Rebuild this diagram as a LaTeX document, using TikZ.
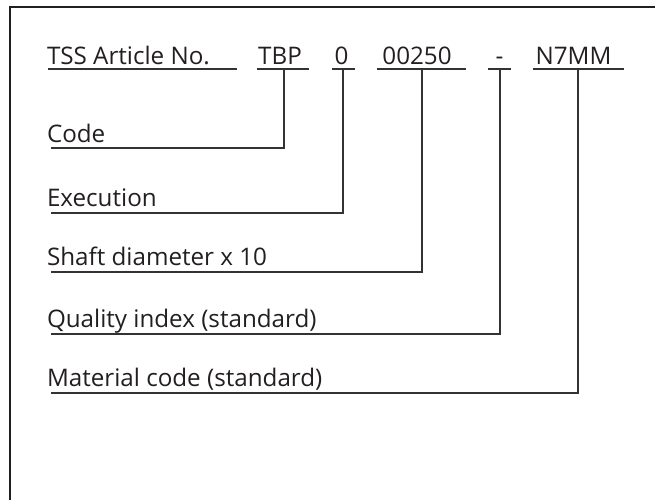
\documentclass[tikz,border=0pt]{standalone}
\usepackage{fontspec}
\setmainfont{Open Sans}
\definecolor{ink}{HTML}{231F20}
\definecolor{rule}{HTML}{333333}
\tikzset{
  x=1pt, y=-1pt,
  txt/.style={inner sep=0pt, outer sep=0pt, text=ink, font=\fontsize{24.2pt}{28pt}\selectfont},
  lab/.style={txt, anchor=base west},
  code/.style={txt, anchor=base},
  uline/.style={draw=rule, line width=1.1pt},
  conn/.style={draw=rule, line width=1.1pt},
  frame/.style={draw=ink, line width=2pt}
}
\begin{document}
\begin{tikzpicture}
\useasboundingbox (0,0) rectangle (655,500);
% frame (open at right and bottom)
\draw[frame] (10,500) -- (10,7) -- (655,7);

% top row
\node[lab] (tss) at (47,65) {TSS Article No.};
\node[code] (tbp) at (280,65) {TBP};
\node[code] (exe) at (341.5,65) {0};
\node[code] (dia) at (417,65) {00250};
\node[code] (qua) at (499.5,65) {-};
\node[code] (mat) at (573.5,65) {N7MM};

\draw[uline] (48,69) -- (237,69);
\draw[uline] (257,69) -- (309,69);
\draw[uline] (332,69) -- (355,69);
\draw[uline] (377,69) -- (466,69);
\draw[uline] (488,69) -- (511,69);
\draw[uline] (533,69) -- (624,69);

\coordinate (tbpu) at (284,69);
\coordinate (exeu) at (343,69);
\coordinate (diau) at (422,69);
\coordinate (quau) at (500,69);
\coordinate (matu) at (578,69);

% labels
\node[lab] (lcode) at (47,142) {Code};
\node[lab] (lexe) at (47,206) {Execution};
\node[lab] (ldia) at (47,265) {Shaft diameter x 10};
\node[lab] (lqua) at (47,327) {Quality index (standard)};
\node[lab] (lmat) at (47,386) {Material code (standard)};

\coordinate (ecode) at (51,148);
\coordinate (eexe) at (51,213);
\coordinate (edia) at (51,272);
\coordinate (equa) at (51,334);
\coordinate (emat) at (51,393);

% connectors
\draw[conn] (tbpu) |- (ecode);
\draw[conn] (exeu) |- (eexe);
\draw[conn] (diau) |- (edia);
\draw[conn] (quau) |- (equa);
\draw[conn] (matu) |- (emat);
\end{tikzpicture}
\end{document}
